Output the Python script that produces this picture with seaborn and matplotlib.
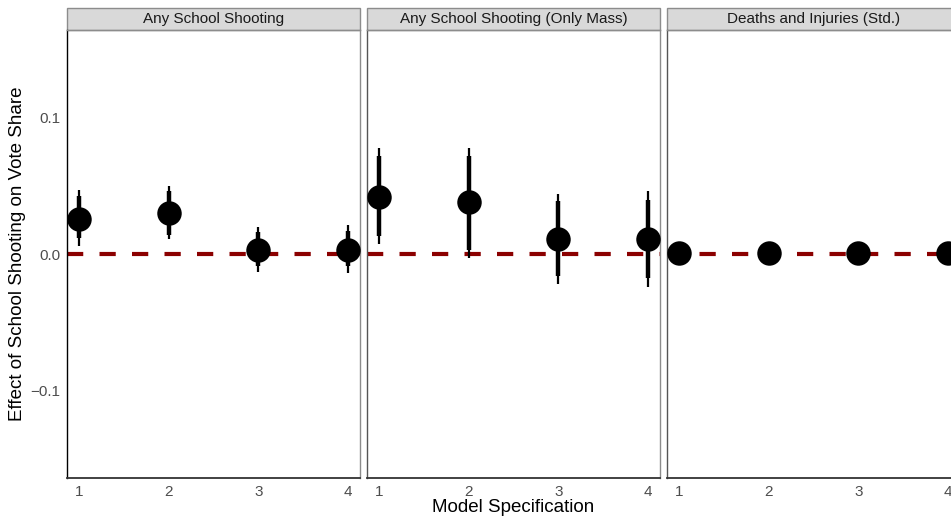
import matplotlib
matplotlib.use("Agg")
import matplotlib.pyplot as plt
from matplotlib.patches import Rectangle
import numpy as np
import pandas as pd
import seaborn as sns

# Outcome measures (one facet each) and model specifications
outcomes = ["Any School Shooting", "Any School Shooting (Only Mass)", "Deaths and Injuries (Std.)"]
specs = [1, 2, 3, 4]

# Point estimates per outcome, model 1-4
est_any = [0.026, 0.030, 0.003, 0.003]
est_mass = [0.042, 0.038, 0.011, 0.011]
est_deaths = [0.001, 0.001, 0.0005, 0.0005]

# Inner (thick) intervals
lo90_any = [0.012, 0.014, -0.009, -0.009]
hi90_any = [0.043, 0.046, 0.016, 0.017]
lo90_mass = [0.013, 0.003, -0.016, -0.018]
hi90_mass = [0.072, 0.072, 0.039, 0.040]
lo90_deaths = [-0.001, -0.001, -0.0015, -0.0015]
hi90_deaths = [0.003, 0.003, 0.0025, 0.0025]

# Outer (thin) intervals
lo95_any = [0.006, 0.011, -0.013, -0.014]
hi95_any = [0.047, 0.050, 0.020, 0.021]
lo95_mass = [0.007, -0.003, -0.022, -0.024]
hi95_mass = [0.078, 0.078, 0.044, 0.046]
lo95_deaths = [-0.002, -0.002, -0.0025, -0.0025]
hi95_deaths = [0.004, 0.004, 0.0035, 0.0035]

y_ticks = [-0.1, 0.0, 0.1]
y_tick_labels = ["\u22120.1", "0.0", "0.1"]

df = pd.DataFrame({
    "outcome": np.repeat(outcomes, len(specs)),
    "spec": specs * len(outcomes),
    "est": est_any + est_mass + est_deaths,
    "lo90": lo90_any + lo90_mass + lo90_deaths,
    "hi90": hi90_any + hi90_mass + hi90_deaths,
    "lo95": lo95_any + lo95_mass + lo95_deaths,
    "hi95": hi95_any + hi95_mass + hi95_deaths,
})

sns.set_style("white")
plt.rcParams["font.family"] = ["Liberation Sans", "DejaVu Sans"]

W, H = 951, 517
fig = plt.figure(figsize=(W / 100, H / 100), dpi=100)

panel_x = [67, 367, 667]
panel_w = 293
top, bottom = 30, 478
strip_h = 22

axes = []
for i, name in enumerate(outcomes):
    ax = fig.add_axes([panel_x[i] / W, 1 - bottom / H, panel_w / W, (bottom - top) / H])
    axes.append(ax)
    sub = df[df["outcome"] == name]

    ax.axhline(0, color="#8B0000", lw=3.0, dashes=(3.9, 3.9), zorder=1)
    ax.vlines(sub["spec"], sub["lo95"], sub["hi95"], color="black", lw=1.6, zorder=2)
    ax.vlines(sub["spec"], sub["lo90"], sub["hi90"], color="black", lw=3.2, zorder=3)
    sns.scatterplot(data=sub, x="spec", y="est", ax=ax, color="black", s=310,
                    edgecolor="black", linewidth=0, zorder=4, legend=False)

    ax.set_xlim(0.866, 4.134)
    ax.set_ylim(-0.1647, 0.1647)
    ax.set_xticks(specs)
    ax.set_xticklabels([str(s) for s in specs])
    ax.set_yticks(y_ticks)
    ax.set_xlabel("")
    ax.set_ylabel("")
    ax.tick_params(axis="both", length=3, width=0.8, color="#4D4D4D",
                   labelcolor="#4D4D4D", labelsize=11, pad=2)
    if i == 0:
        ax.set_yticklabels(y_tick_labels)
    else:
        ax.tick_params(axis="y", left=False, labelleft=False)

    for side in ["top", "right"]:
        ax.spines[side].set_color("#8C8C8C")
        ax.spines[side].set_linewidth(1.0)
    ax.spines["left"].set_color("black" if i == 0 else "#555555")
    ax.spines["left"].set_linewidth(1.0)
    ax.spines["bottom"].set_color("#333333")
    ax.spines["bottom"].set_linewidth(1.3)

    # Facet strip
    sh = strip_h / (bottom - top)
    ax.add_patch(Rectangle((0, 1), 1, sh, transform=ax.transAxes, clip_on=False,
                           facecolor="#D9D9D9", edgecolor="#8C8C8C", lw=1.0))
    ax.text(0.5, 1 + sh / 2, name, transform=ax.transAxes, ha="center", va="center",
            fontsize=11, color="#1A1A1A")

fig.text(513 / W, 1 - 508 / H, "Model Specification", ha="center", va="center",
         fontsize=13.5, color="black")
fig.text(18 / W, 1 - 254 / H, "Effect of School Shooting on Vote Share", rotation=90,
         ha="center", va="center", fontsize=13.5, color="black")

fig.savefig("out.png", dpi=100)
